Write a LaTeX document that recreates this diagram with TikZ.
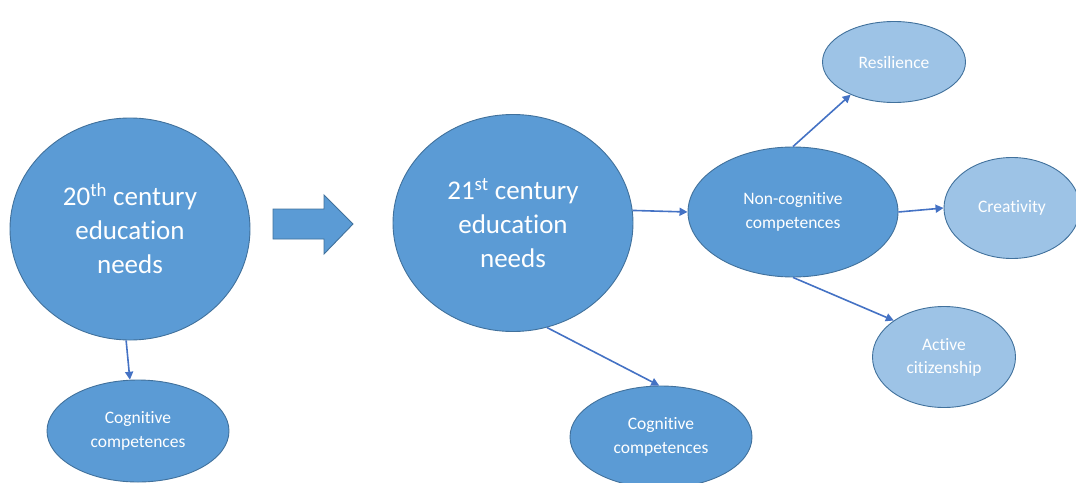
\documentclass[tikz,border=0pt]{standalone}
\usepackage{fontspec}
\setmainfont{Carlito}[RawFeature={-liga;-clig;-dlig}]
\usetikzlibrary{shapes.geometric,arrows.meta}
\definecolor{darkfill}{HTML}{5B9BD5}
\definecolor{lightfill}{HTML}{9DC3E6}
\definecolor{edgeblue}{HTML}{41719C}
\definecolor{linkblue}{HTML}{4472C4}
\newcommand{\nolig}{\kern0pt }
\tikzset{
  bigell/.style={ellipse, draw=edgeblue, line width=0.9pt, fill=darkfill, text=white, inner sep=0pt, align=center, font=\fontsize{27}{34}\selectfont},
  midell/.style={ellipse, draw=edgeblue, line width=0.9pt, fill=darkfill, text=white, inner sep=0pt, align=center, font=\fontsize{17.5}{24.5}\selectfont},
  lightell/.style={ellipse, draw=edgeblue, line width=0.9pt, fill=lightfill, text=white, inner sep=0pt, align=center, font=\fontsize{17.5}{23}\selectfont},
  link/.style={draw=linkblue, line width=1.6pt, -{Triangle[length=8pt,width=8pt]}},
}
\begin{document}
\begin{tikzpicture}[x=1pt,y=-1pt]
\useasboundingbox (0,0) rectangle (1076,482);
\begin{scope}
\clip (0,0) rectangle (1076,482);
\node[bigell, minimum width=240pt, minimum height=222pt] (e1) at (130,229) {20\textsuperscript{th} century\\educat\nolig ion\\needs};
\node[bigell, minimum width=240pt, minimum height=217pt] (e2) at (513,223) {21\textsuperscript{st} century\\educat\nolig ion\\needs};
\node[midell, minimum width=210pt, minimum height=130pt] (nc) at (793,212) {Non-cognit\nolig ive\\competences};
\node[midell, minimum width=182pt, minimum height=102pt] (c1) at (138,431) {Cognit\nolig ive\\competences};
\node[midell, minimum width=182pt, minimum height=102pt] (c2) at (661,437) {Cognit\nolig ive\\competences};
\node[lightell, minimum width=143pt, minimum height=81pt] (res) at (894,62) {Resilience};
\node[lightell, minimum width=136pt, minimum height=101pt] (cre) at (1012,208) {Creat\nolig ivity};
\node[lightell, minimum width=143pt, minimum height=101pt] (act) at (944,357) {Act\nolig ive\\cit\nolig izenship};
\end{scope}
\draw[draw=edgeblue, line width=0.9pt, fill=darkfill] (273,209) -- (324,209) -- (324,195) -- (353,224) -- (324,254) -- (324,239) -- (273,239) -- cycle;
\draw[link] (e1.268) -- (c1.99);
\draw[link] (e2.-72) -- (c2.92);
\draw[link] (e2.6) -- (nc.west);
\draw[link] (nc.north) -- (res.-143);
\draw[link] (nc.east) -- (cre.west);
\draw[link] (nc.south) -- (act.144);
\end{tikzpicture}
\end{document}
